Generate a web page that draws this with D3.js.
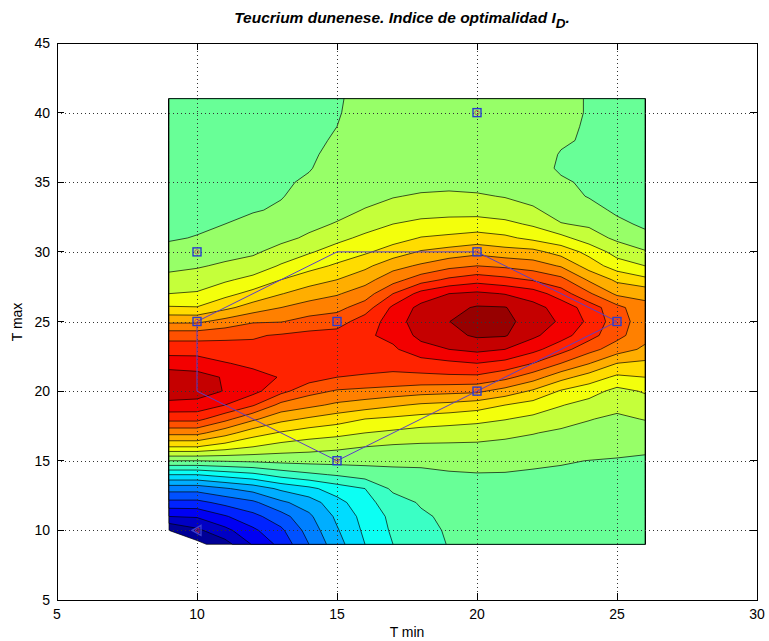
<!DOCTYPE html>
<html><head><meta charset="utf-8">
<script src="https://cdn.jsdelivr.net/npm/d3@7"></script>
<style>body{margin:0;background:#fff}svg{display:block}text{font-family:"Liberation Sans",Arial,sans-serif}</style>
</head><body><svg id="c" width="769" height="641"></svg>
<script>
// grid of T min (columns) and T max (rows)
const tMinGrid = [9,10,11,12,13,14,15,16,17,18,19,20,21,22,23,24,25,26];
const tMaxGrid = [9,10,11,12,13,14,15,16,17,18,19,20,21,22,23,24,25,26,27,28,29,30,31,32,33,34,35,36,37,38,39,40,41];
// optimality index (contour-level units), one row per T max, from 9 to 41
const indexRows = [
[-1.0,-0.3,0.6,2.1,3.3,5.0,6.6,8.0,9.0,9.55,10.05,10.3,10.45,10.55,10.6,10.65,10.7,10.75],
[0.0,0.8,1.7,2.8,3.8,5.4,6.9,8.2,9.15,9.72,10.1,10.4,10.52,10.6,10.64,10.68,10.72,10.78],
[2.0,2.1,2.9,3.7,4.6,5.8,7.2,8.35,9.25,9.85,10.2,10.5,10.6,10.65,10.68,10.72,10.75,10.8],
[3.7,3.7,4.3,4.8,5.8,6.5,7.65,8.65,9.55,10.1,10.35,10.6,10.68,10.72,10.74,10.76,10.78,10.83],
[5.4,5.4,5.9,6.4,7.2,7.75,8.5,9.0,10.2,10.45,10.6,10.75,10.8,10.8,10.8,10.81,10.82,10.87],
[8.0,8.0,8.4,8.75,9.4,9.8,10.1,10.45,10.75,10.8,10.9,10.95,10.95,10.92,10.9,10.88,10.88,10.92],
[11.0,11.0,11.1,11.2,11.3,11.35,11.35,11.3,11.2,11.2,11.3,11.35,11.25,11.12,11.05,10.99,10.95,10.97],
[14.0,14.0,13.5,13.0,12.6,12.4,12.2,12.0,11.85,11.8,11.8,11.8,11.7,11.55,11.4,11.3,11.2,11.04],
[16.3,16.3,15.4,14.45,13.9,13.5,13.3,13.0,12.8,12.6,12.5,12.4,12.25,12.05,11.8,11.65,11.55,11.5],
[18.3,18.3,17.3,16.2,15.3,14.85,14.45,14.0,13.8,13.6,13.45,13.3,13.05,12.75,12.45,12.05,11.8,12.05],
[19.7,19.65,19.0,18.1,16.7,16.25,15.8,15.5,15.15,14.85,14.7,14.45,14.0,13.6,13.05,12.65,12.3,12.55],
[20.6,20.45,19.95,19.3,18.3,17.35,16.9,16.75,16.6,16.4,16.3,16.2,15.6,14.85,13.9,13.4,12.7,13.1],
[20.6,20.4,19.9,19.3,18.95,18.45,18.0,17.9,17.8,17.75,17.8,17.8,17.3,16.45,15.35,14.55,13.8,14.0],
[19.5,19.45,19.05,18.8,18.8,18.65,18.4,18.35,18.3,18.6,18.8,19.0,18.7,18.0,17.0,16.05,15.0,14.8],
[18.6,18.6,18.45,18.25,18.5,18.6,18.55,18.7,18.85,19.6,20.0,20.25,20.0,19.3,18.4,17.35,16.5,15.8],
[17.6,17.6,17.75,17.9,18.1,18.3,18.4,18.85,19.25,20.3,20.7,21.15,21.08,20.2,19.4,18.4,17.3,16.35],
[15.8,15.8,16.35,16.9,16.95,17.35,17.55,18.5,19.4,20.65,20.98,21.6,21.25,20.6,19.85,18.8,17.45,16.5],
[14.1,14.05,14.75,15.45,16.0,16.45,16.7,17.5,19.2,20.3,20.7,21.1,21.05,20.35,19.6,18.55,17.3,16.3],
[13.0,13.1,13.7,14.3,14.95,15.5,15.9,16.5,18.0,19.35,20.0,20.2,19.95,19.5,18.5,17.15,15.8,15.7],
[12.3,12.45,12.85,13.3,14.0,14.55,15.0,15.65,16.6,17.55,18.2,18.6,18.3,17.9,17.3,15.85,14.8,14.25],
[11.75,11.9,12.15,12.4,13.1,13.65,14.15,14.75,15.65,16.15,16.7,17.0,16.8,16.5,15.9,14.55,13.5,13.0],
[11.3,11.45,11.65,11.85,12.35,12.9,13.4,13.85,14.45,15.1,15.4,15.7,15.4,15.3,14.6,13.7,12.6,12.1],
[10.9,11.05,11.25,11.45,11.75,12.15,12.75,13.2,13.6,14.05,14.2,14.4,14.2,13.75,13.3,12.45,11.8,11.25],
[10.7,10.82,11.0,11.2,11.45,11.75,12.07,12.6,13.0,13.3,13.4,13.45,13.25,12.85,12.05,11.85,11.2,10.85],
[10.6,10.7,10.82,10.95,11.08,11.45,11.7,12.05,12.35,12.5,12.6,12.6,12.45,12.15,11.55,11.3,10.85,10.8],
[10.55,10.65,10.78,10.9,10.97,11.2,11.42,11.7,11.95,12.1,12.15,12.1,11.95,11.65,11.3,10.95,10.9,10.9],
[10.5,10.6,10.72,10.85,10.95,11.05,11.22,11.4,11.55,11.7,11.75,11.68,11.55,11.28,11.05,10.94,10.93,10.9],
[10.45,10.55,10.65,10.78,10.9,10.98,11.14,11.28,11.45,11.6,11.62,11.55,11.38,11.15,10.95,10.95,10.94,10.9],
[10.42,10.5,10.6,10.72,10.85,10.95,11.09,11.22,11.4,11.55,11.6,11.52,11.35,11.15,10.98,10.96,10.92,10.88],
[10.4,10.47,10.58,10.7,10.82,10.92,11.04,11.2,11.38,11.52,11.57,11.5,11.35,11.17,11.04,10.96,10.9,10.85],
[10.4,10.45,10.55,10.65,10.78,10.9,11.0,11.17,11.35,11.5,11.55,11.5,11.38,11.22,11.08,10.96,10.88,10.83],
[10.4,10.45,10.55,10.65,10.75,10.88,10.97,11.15,11.35,11.5,11.55,11.5,11.4,11.26,11.12,10.97,10.88,10.82],
[10.4,10.45,10.5,10.6,10.7,10.85,10.95,11.15,11.35,11.5,11.55,11.5,11.4,11.27,11.12,10.97,10.85,10.8]
];
const levels = [0,1,2,3,4,5,6,7,8,9,10,11,12,13,14,15,16,17,18,19,20,21,22];
// sampled points and their outline
const sampleTmin = [10,10,15,15,20,20,20,25];
const sampleTmax = [30,25,25,15,40,30,20,25];
const triTmin = [10];
const triTmax = [10];
const hullTmin = [10,15,20,25,20,15,10,10];
const hullTmax = [25,30,30,25,20,15,20,25];
const xTicks = [5,10,15,20,25,30];
const yTicks = [5,10,15,20,25,30,35,40,45];

// jet colormap (style helper)
function jet(t){
  const c = v => Math.max(0, Math.min(1, v));
  const r = c(Math.min(4*t-1.5, -4*t+4.5)), g = c(Math.min(4*t-0.5, -4*t+3.5)), b = c(Math.min(4*t+0.5, -4*t+2.5));
  return d3.rgb(r*255, g*255, b*255).formatHex();
}

const svg = d3.select('#c');
svg.append('rect').attr('width',769).attr('height',641).attr('fill','#fff');
const x = d3.scaleLinear().domain([5,30]).range([57,757]);
const y = d3.scaleLinear().domain([5,45]).range([600,43]);

const nx = tMinGrid.length, ny = tMaxGrid.length;
const dxs = tMinGrid[1]-tMinGrid[0], dys = tMaxGrid[1]-tMaxGrid[0];
const gx = X => Math.max(tMinGrid[0], Math.min(tMinGrid[nx-1], tMinGrid[0] + (X-0.5)*dxs));
const gy = Y => Math.max(tMaxGrid[0], Math.min(tMaxGrid[ny-1], tMaxGrid[0] + (Y-0.5)*dys));
const proj = d3.geoTransform({point(X,Y){ this.stream.point(x(gx(X)), y(gy(Y))); }});
const path = d3.geoPath(proj);

const nb = levels.length-1;
const cont = d3.contours().size([nx, ny]).thresholds(levels.slice(0,-1))(indexRows.flat());
svg.append('g').selectAll('path').data(cont).join('path')
  .attr('d', path)
  .attr('fill', (d,i)=>jet((i+0.5)/nb))
  .attr('stroke','#000').attr('stroke-width',0.8).attr('stroke-opacity',0.85);

// grid (dotted)
const g = svg.append('g').attr('stroke','#333').attr('stroke-width',1).attr('stroke-dasharray','1 3');
xTicks.slice(1,-1).forEach(v=>g.append('line').attr('x1',Math.round(x(v))+0.5).attr('x2',Math.round(x(v))+0.5).attr('y1',y(45)).attr('y2',y(5)));
yTicks.slice(1,-1).forEach(v=>g.append('line').attr('y1',Math.round(y(v))+0.5).attr('y2',Math.round(y(v))+0.5).attr('x1',x(5)).attr('x2',x(30)));

// outline of sampled points
const line = d3.line().x(d=>x(d[0])).y(d=>y(d[1]));
svg.append('path').attr('d', line(hullTmin.map((v,i)=>[v,hullTmax[i]])))
  .attr('fill','none').attr('stroke','#5a3fc8').attr('stroke-width',1);

// markers
sampleTmin.forEach((v,i)=>{
  const cx = x(v), cy = y(sampleTmax[i]);
  svg.append('rect').attr('x',cx-4).attr('y',cy-4).attr('width',8).attr('height',8)
    .attr('fill','none').attr('stroke','#2a3cd0').attr('stroke-width',1.4);
  svg.append('circle').attr('cx',cx).attr('cy',cy).attr('r',2.2).attr('fill','none').attr('stroke','#c03060').attr('stroke-width',0.8);
});
triTmin.forEach((v,i)=>{
  const cx = x(v), cy = y(triTmax[i]);
  svg.append('path').attr('d',`M${cx-5},${cy} L${cx+4},${cy-5} L${cx+4},${cy+5} Z`)
    .attr('fill','none').attr('stroke','#3a40d0').attr('stroke-width',1.3);
  svg.append('path').attr('d',`M${cx-2},${cy} L${cx+2},${cy-2.5} L${cx+2},${cy+2.5} Z`)
    .attr('fill','none').attr('stroke','#c03060').attr('stroke-width',0.8);
});

// box and ticks
const box = svg.append('g').attr('stroke','#000').attr('stroke-width',1).attr('shape-rendering','crispEdges');
box.append('rect').attr('x',x(5)).attr('y',y(45)).attr('width',x(30)-x(5)).attr('height',y(5)-y(45)).attr('fill','none');
xTicks.forEach(v=>{
  box.append('line').attr('x1',x(v)).attr('x2',x(v)).attr('y1',y(5)).attr('y2',y(5)-7);
  box.append('line').attr('x1',x(v)).attr('x2',x(v)).attr('y1',y(45)).attr('y2',y(45)+7);
});
yTicks.forEach(v=>{
  box.append('line').attr('y1',y(v)).attr('y2',y(v)).attr('x1',x(5)).attr('x2',x(5)+7);
  box.append('line').attr('y1',y(v)).attr('y2',y(v)).attr('x1',x(30)).attr('x2',x(30)-7);
});
xTicks.forEach(v=>svg.append('text').attr('x',x(v)).attr('y',619).attr('text-anchor','middle').attr('font-size',14).text(v));
yTicks.forEach(v=>svg.append('text').attr('x',50).attr('y',y(v)+5).attr('text-anchor','end').attr('font-size',14).text(v));
svg.append('text').attr('x',407).attr('y',637).attr('text-anchor','middle').attr('font-size',14).text('T min');
svg.append('text').attr('transform','translate(22,322) rotate(-90)').attr('text-anchor','middle').attr('font-size',14).text('T max');
const tt = svg.append('text').attr('x',402).attr('y',23).attr('text-anchor','middle').attr('font-size',15.5).attr('font-weight','bold').attr('font-style','italic');
tt.append('tspan').text('Teucrium dunenese. Indice de optimalidad I');
tt.append('tspan').attr('dy',5).attr('font-size',13.5).text('D');
tt.append('tspan').attr('dy',-5).text('.');
</script></body></html>
